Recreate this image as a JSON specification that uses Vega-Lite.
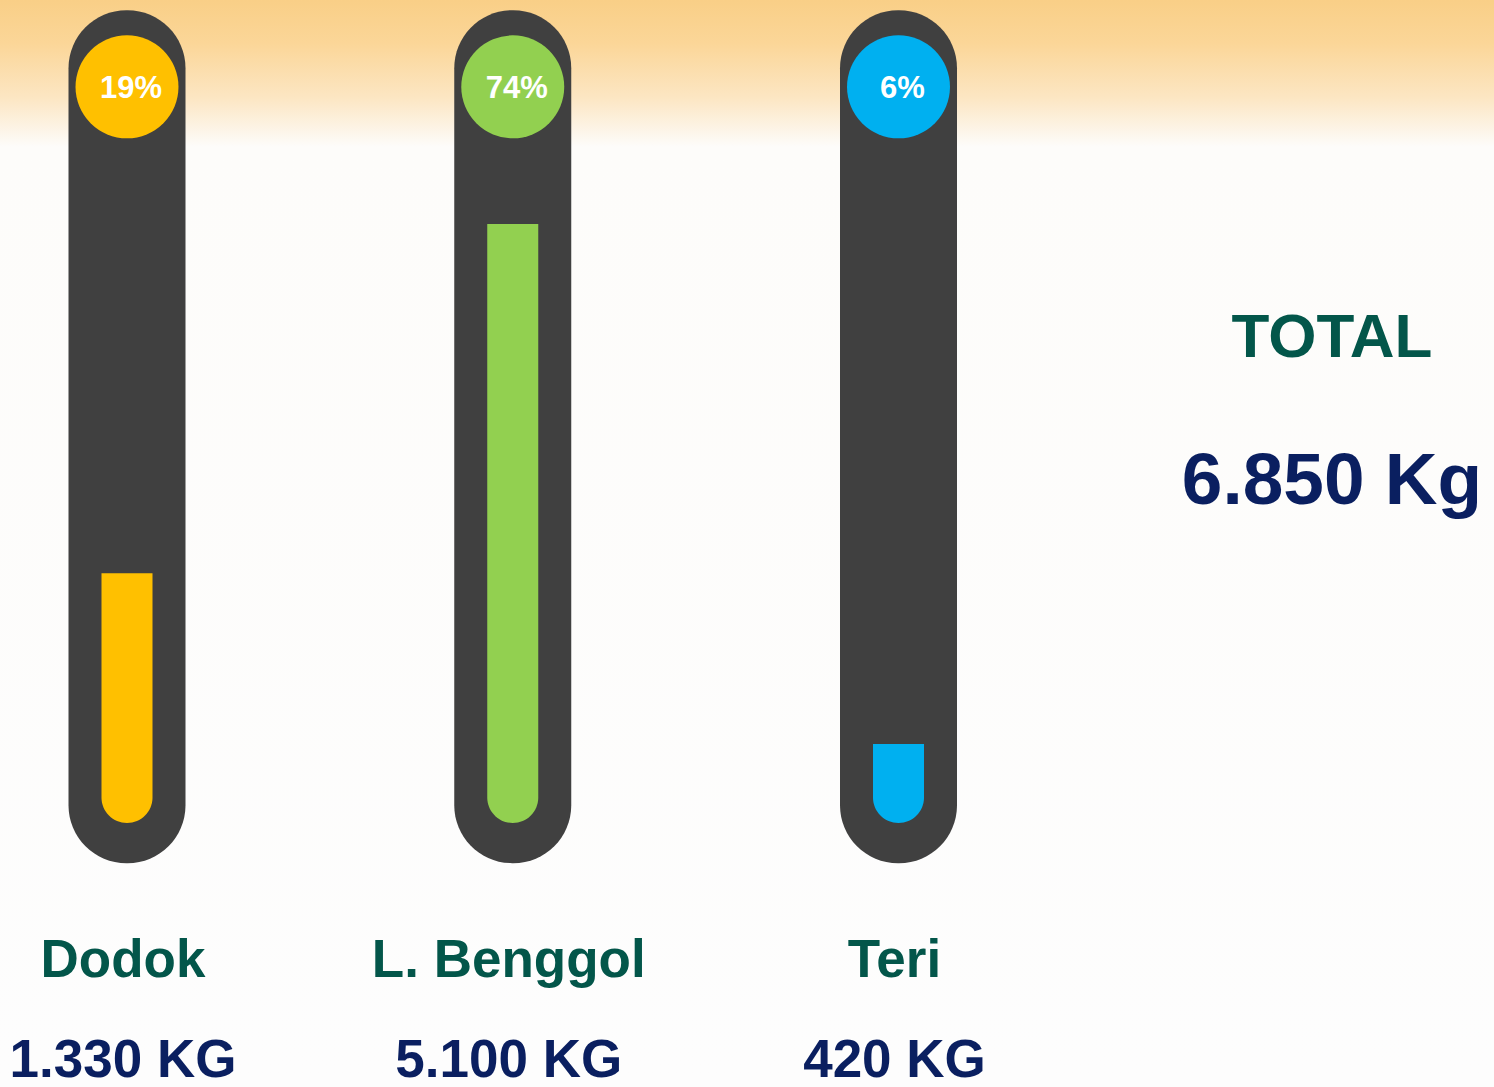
{
  "$schema": "https://vega.github.io/schema/vega-lite/v6.json",
  "width": 1494,
  "height": 1087,
  "padding": 0,
  "autosize": {"type": "none"},
  "background": "#FFFFFF",
  "config": {
    "view": {
      "stroke": null,
      "fill": {
        "gradient": "linear", "x1": 0, "y1": 0, "x2": 0, "y2": 1,
        "stops": [
          {"offset": 0, "color": "#F9CF87"},
          {"offset": 0.04, "color": "#FBD698"},
          {"offset": 0.09, "color": "#FCE6C3"},
          {"offset": 0.135, "color": "#FDFCFA"},
          {"offset": 1, "color": "#FDFDFD"}
        ]
      }
    },
    "text": {"font": "Liberation Sans", "fontWeight": "bold"}
  },
  "datasets": {
    "fish": [
      {"name": "Dodok", "kg": "1.330 KG", "pct": "19%", "level": 41.7},
      {"name": "L. Benggol", "kg": "5.100 KG", "pct": "74%", "level": 100},
      {"name": "Teri", "kg": "420 KG", "pct": "6%", "level": 13.2}
    ],
    "total": [{"title": "TOTAL", "total": "6.850 Kg"}]
  },
  "layer": [
    {
      "data": {"name": "fish"},
      "encoding": {
        "x": {
          "field": "name", "type": "nominal", "sort": null,
          "scale": {"type": "point", "domain": ["Dodok", "L. Benggol", "Teri"], "range": [127, 898.5], "padding": 0},
          "axis": null
        }
      },
      "layer": [
        {
          "mark": {"type": "bar", "width": 117, "cornerRadius": 58, "color": "#404040"},
          "encoding": {
            "y": {"datum": 135.7, "type": "quantitative", "scale": {"domain": [0, 100], "range": [823, 224], "nice": false, "zero": false}, "axis": null},
            "y2": {"datum": -6.7}
          }
        },
        {
          "mark": {"type": "bar", "width": 51, "cornerRadiusBottomLeft": 25.5, "cornerRadiusBottomRight": 25.5},
          "encoding": {
            "y": {"field": "level", "type": "quantitative", "scale": {"domain": [0, 100], "range": [823, 224], "nice": false, "zero": false}, "axis": null},
            "y2": {"datum": 0},
            "color": {"field": "name", "type": "nominal", "scale": {"domain": ["Dodok", "L. Benggol", "Teri"], "range": ["#FFC000", "#92D050", "#00B0F0"]}, "legend": null}
          }
        },
        {
          "mark": {"type": "point", "shape": "circle", "filled": true, "size": 10600, "opacity": 1, "strokeWidth": 0},
          "encoding": {
            "y": {"datum": 122.9, "type": "quantitative", "scale": {"domain": [0, 100], "range": [823, 224], "nice": false, "zero": false}, "axis": null},
            "color": {"field": "name", "type": "nominal", "scale": {"domain": ["Dodok", "L. Benggol", "Teri"], "range": ["#FFC000", "#92D050", "#00B0F0"]}, "legend": null}
          }
        },
        {
          "mark": {"type": "text", "fontSize": 31, "color": "#FFFFFF", "dx": 4, "dy": 11, "baseline": "alphabetic", "align": "center"},
          "encoding": {
            "y": {"datum": 122.9, "type": "quantitative", "scale": {"domain": [0, 100], "range": [823, 224], "nice": false, "zero": false}, "axis": null},
            "text": {"field": "pct"}
          }
        },
        {
          "mark": {"type": "text", "fontSize": 53, "color": "#03564A", "dx": -4, "baseline": "alphabetic", "align": "center"},
          "encoding": {
            "y": {"datum": -25.7, "type": "quantitative", "scale": {"domain": [0, 100], "range": [823, 224], "nice": false, "zero": false}, "axis": null},
            "text": {"field": "name"}
          }
        },
        {
          "mark": {"type": "text", "fontSize": 53, "color": "#0A1F60", "dx": -4, "baseline": "alphabetic", "align": "center"},
          "encoding": {
            "y": {"datum": -42.4, "type": "quantitative", "scale": {"domain": [0, 100], "range": [823, 224], "nice": false, "zero": false}, "axis": null},
            "text": {"field": "kg"}
          }
        }
      ]
    },
    {
      "data": {"name": "total"},
      "encoding": {
        "x": {"field": "title", "type": "nominal", "scale": {"type": "point", "range": [1332, 1332]}, "axis": null}
      },
      "layer": [
        {
          "mark": {"type": "text", "fontSize": 62, "color": "#03564A", "baseline": "alphabetic", "align": "center"},
          "encoding": {
            "y": {"datum": 77.8, "type": "quantitative", "scale": {"domain": [0, 100], "range": [823, 224], "nice": false, "zero": false}, "axis": null},
            "text": {"field": "title"}
          }
        },
        {
          "mark": {"type": "text", "fontSize": 73, "color": "#0A1F60", "baseline": "alphabetic", "align": "center"},
          "encoding": {
            "y": {"datum": 53.3, "type": "quantitative", "scale": {"domain": [0, 100], "range": [823, 224], "nice": false, "zero": false}, "axis": null},
            "text": {"field": "total"}
          }
        }
      ]
    }
  ],
  "resolve": {"scale": {"x": "independent"}}
}
